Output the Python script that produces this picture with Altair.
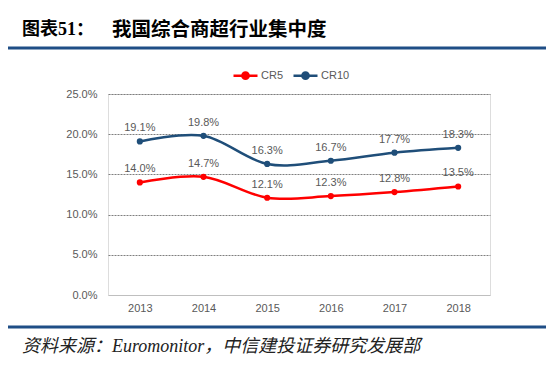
import altair as alt
import pandas as pd

years = ["2013", "2014", "2015", "2016", "2017", "2018"]
cr5 = [0.140, 0.147, 0.121, 0.123, 0.128, 0.135]
cr10 = [0.191, 0.198, 0.163, 0.167, 0.177, 0.183]
series = ["CR5", "CR10"]
colors = ["#FF0000", "#1F4E79"]
y_ticks = [0, 0.05, 0.10, 0.15, 0.20, 0.25]

df = pd.DataFrame({
    "year": years * 2,
    "value": cr5 + cr10,
    "series": ["CR5"] * len(years) + ["CR10"] * len(years),
})

W, H = 382, 201
lab_font = "Liberation Sans"

x = alt.X("year:O", scale=alt.Scale(type="point", padding=0.5),
          axis=alt.Axis(title=None, labelAngle=0, ticks=False, domainColor="#BFBFBF",
                        domainWidth=1, labelColor="#595959", labelFont=lab_font,
                        labelFontSize=11, labelPadding=7, grid=False))
y = alt.Y("value:Q", scale=alt.Scale(domain=[0, 0.25], nice=False),
          axis=alt.Axis(title=None, format=".1%", values=y_ticks, domain=False, ticks=False,
                        grid=True, gridColor="#7F7F7F", gridDash=[2, 1], gridWidth=1,
                        gridOpacity={"condition": {"test": "datum.value === 0", "value": 0}, "value": 1},
                        labelColor="#595959", labelFont=lab_font, labelFontSize=11,
                        labelPadding=11))

legend_path = "M-1,0H1M-0.26,0A0.26,0.26,0,1,1,0.26,0A0.26,0.26,0,1,1,-0.26,0Z"
color = alt.Color("series:N", scale=alt.Scale(domain=series, range=colors),
                  legend=alt.Legend(title=None, orient="none", direction="horizontal",
                                    legendX=124, legendY=-32, symbolType=legend_path,
                                    symbolSize=576, symbolStrokeWidth=2.5,
                                    labelColor="#595959", labelFont=lab_font,
                                    labelFontSize=11, columnPadding=4, labelOffset=2))

base = alt.Chart(df)
lines = base.mark_line(interpolate="cardinal", strokeWidth=2.5).encode(x=x, y=y, color=color)
points = base.mark_circle(size=38, opacity=1).encode(
    x=x, y=y, color=alt.Color("series:N", scale=alt.Scale(domain=series, range=colors), legend=None))
labels = base.mark_text(dy=-13, fontSize=11, color="#595959", font=lab_font).encode(
    x=x, y=y, text=alt.Text("value:Q", format=".1%"))

ann = pd.DataFrame({"k": [0]})
top_rule = alt.Chart(ann).mark_rule(color="#1F4E86", strokeWidth=3).encode(
    x=alt.value(-108), x2=alt.value(440), y=alt.value(-46))
bot_rule = alt.Chart(ann).mark_rule(color="#1F4E86", strokeWidth=3).encode(
    x=alt.value(-108), x2=alt.value(440), y=alt.value(233))

title1 = alt.Chart(pd.DataFrame({"t": ["图表51："]})).mark_text(
    align="left", baseline="middle", fontSize=18, fontWeight="bold", color="#000000",
    font="Liberation Serif, Noto Sans CJK SC").encode(
    x=alt.value(-86), y=alt.value(-64), text="t:N")
title2 = alt.Chart(pd.DataFrame({"t": ["我国综合商超行业集中度"]})).mark_text(
    align="left", baseline="middle", fontSize=19.5, fontWeight="bold", color="#000000",
    font="Noto Sans CJK SC").encode(
    x=alt.value(4), y=alt.value(-64), text="t:N")
source = alt.Chart(pd.DataFrame({"t": ["资料来源：Euromonitor，中信建投证券研究发展部"]})).mark_text(
    align="left", baseline="middle", fontSize=18, fontStyle="italic", color="#222222",
    font="Liberation Serif, Noto Sans CJK SC").encode(
    x=alt.value(-86), y=alt.value(253), text="t:N")

chart = alt.layer(lines, points, labels, top_rule, bot_rule, title1, title2, source).properties(
    width=W, height=H,
    padding={"left": 100, "top": 86, "right": 56, "bottom": 67},
    autosize=alt.AutoSizeParams(type="none"),
).configure_view(stroke=None).configure(background="white")

chart.save("out.html", embed_options={"renderer": "svg", "actions": False})
